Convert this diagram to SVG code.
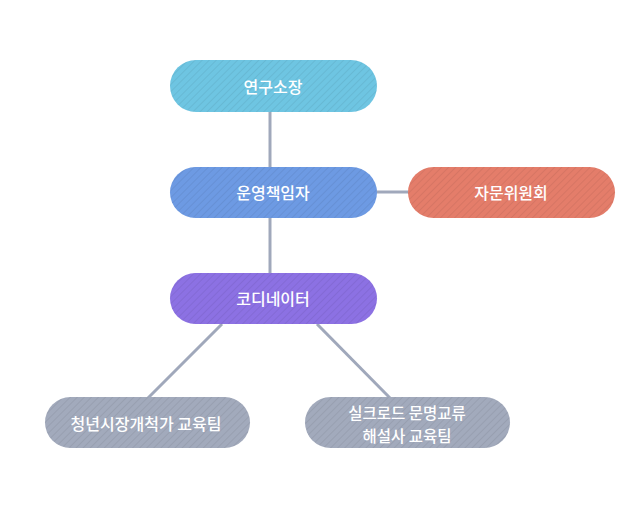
<svg xmlns="http://www.w3.org/2000/svg" width="620" height="512" viewBox="0 0 620 512">
<style>
.lbl{font-family:"Noto Sans CJK KR","Noto Sans",sans-serif;font-size:16px;font-weight:500;fill:#ffffff;text-anchor:middle;dominant-baseline:central}
.sm{font-size:15.5px}
.con{stroke:#a0a8bb;stroke-width:3;fill:none}
.hatch{fill:url(#hatch)}
</style>
<defs>
<pattern id="hatch" width="5" height="5" patternUnits="userSpaceOnUse" patternTransform="rotate(45)">
<line x1="0" y1="0" x2="0" y2="5" stroke="#000" stroke-opacity="0.08" stroke-width="1.6"/>
</pattern>
</defs>
<rect width="620" height="512" fill="#ffffff"/>
<g id="connectors">
<line class="con" x1="270" y1="110" x2="270" y2="170"/>
<line class="con" x1="270" y1="216" x2="270" y2="276"/>
<line class="con" x1="375" y1="192" x2="410" y2="192"/>
<line class="con" x1="222" y1="324" x2="148" y2="398"/>
<line class="con" x1="317" y1="324" x2="390" y2="398"/>
</g>
<g id="n1">
<rect x="170" y="60" width="207" height="52" rx="26" fill="#6ec5e2"/>
<rect x="170" y="60" width="207" height="52" rx="26" class="hatch"/>
<text class="lbl" x="273" y="86">연구소장</text>
</g>
<g id="n2">
<rect x="170" y="167" width="207" height="51" rx="25.5" fill="#6d9ae3"/>
<rect x="170" y="167" width="207" height="51" rx="25.5" class="hatch"/>
<text class="lbl" x="273" y="192">운영책임자</text>
</g>
<g id="n3">
<rect x="408" y="167" width="207" height="51" rx="25.5" fill="#e47d6a"/>
<rect x="408" y="167" width="207" height="51" rx="25.5" class="hatch"/>
<text class="lbl" x="511" y="192">자문위원회</text>
</g>
<g id="n4">
<rect x="170" y="273" width="207" height="51" rx="25.5" fill="#8c71e3"/>
<rect x="170" y="273" width="207" height="51" rx="25.5" class="hatch"/>
<text class="lbl" x="273" y="298">코디네이터</text>
</g>
<g id="n5">
<rect x="45" y="397" width="205" height="51" rx="25.5" fill="#a2aabc"/>
<rect x="45" y="397" width="205" height="51" rx="25.5" class="hatch"/>
<text class="lbl" x="146" y="423">청년시장개척가 교육팀</text>
</g>
<g id="n6">
<rect x="305" y="397" width="205" height="51" rx="25.5" fill="#a2aabc"/>
<rect x="305" y="397" width="205" height="51" rx="25.5" class="hatch"/>
<text class="lbl sm" x="407" y="412">실크로드 문명교류</text>
<text class="lbl sm" x="407" y="435">해설사 교육팀</text>
</g>
</svg>
